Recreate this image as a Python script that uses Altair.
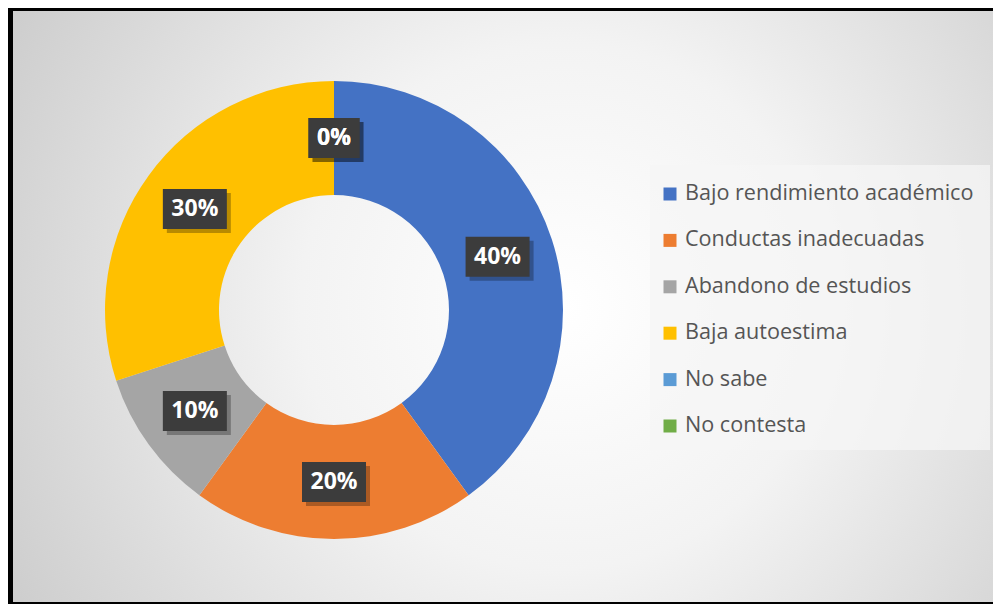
import altair as alt
import pandas as pd

categories = ["Bajo rendimiento académico", "Conductas inadecuadas", "Abandono de estudios",
              "Baja autoestima", "No sabe", "No contesta"]
values = [40, 20, 10, 30, 0, 0]
colors = ["#4472C4", "#ED7D31", "#A5A5A5", "#FFC000", "#5B9BD5", "#70AD47"]
labels = [f"{v}%" for v in values]

df = pd.DataFrame({
    "idx": list(range(len(categories))),
    "cat": categories,
    "value": values,
    "label": labels,
})

W, H = 985, 596
CX, CY = 326, 302
R_OUT, R_IN, R_LAB = 229, 115, 172

base = alt.Chart(df)

bg = alt.Chart(pd.DataFrame({"a": [0]})).mark_rect(
    fill=alt.RadialGradient(
        gradient="radial",
        stops=[alt.GradientStop(offset=0, color="#ffffff"),
               alt.GradientStop(offset=0.35, color="#f3f3f3"),
               alt.GradientStop(offset=1, color="#c0c0c0")],
        x1=0.55, y1=0.5, r1=0, x2=0.55, y2=0.5, r2=0.75),
    stroke=None,
).encode(x=alt.value(5), x2=alt.value(W + 20), y=alt.value(3), y2=alt.value(594))

arcs = base.mark_arc(radius=R_OUT, radius2=R_IN, stroke=None).encode(
    theta=alt.Theta("value:Q", stack=True),
    order=alt.Order("idx:Q"),
    color=alt.Color("cat:N", scale=alt.Scale(domain=categories, range=colors), legend=None),
    x=alt.value(CX), y=alt.value(CY),
)

lab = base.transform_joinaggregate(total="sum(value)").transform_window(
    cum="sum(value)", sort=[alt.SortField("idx")], frame=[None, 0]
).transform_calculate(
    mid="(datum.cum - datum.value/2)/datum.total*2*PI",
).transform_calculate(
    px=f"{CX} + {R_LAB}*sin(datum.mid)",
    py=f"{CY} - {R_LAB}*cos(datum.mid)",
    bw="25 + 13*length(datum.label)",
).transform_calculate(
    x0="datum.px - datum.bw/2", x1="datum.px + datum.bw/2",
    y0="datum.py - 20", y1="datum.py + 20",
    sx0="datum.px - datum.bw/2 + 4", sx1="datum.px + datum.bw/2 + 4",
    sy0="datum.py - 16", sy1="datum.py + 24",
)

shadow = lab.mark_rect(color="black", opacity=0.28).encode(
    x=alt.X("sx0:Q", scale=None), x2="sx1:Q",
    y=alt.Y("sy0:Q", scale=None), y2="sy1:Q",
)
boxes = lab.mark_rect(color="#3c3c3c").encode(
    x=alt.X("x0:Q", scale=None), x2="x1:Q",
    y=alt.Y("y0:Q", scale=None), y2="y1:Q",
)
texts = lab.mark_text(font="Open Sans", fontSize=23, fontWeight="bold", color="white",
                      align="center", baseline="middle").encode(
    x=alt.X("px:Q", scale=None), y=alt.Y("py:Q", scale=None), text="label:N",
)

leg_box = alt.Chart(pd.DataFrame({"a": [0]})).mark_rect(fill="#f6f6f6", opacity=0.75).encode(
    x=alt.value(642), x2=alt.value(982), y=alt.value(157), y2=alt.value(442)
)
leg = base.transform_calculate(ly="186 + datum.idx*46.4", sx="662", tx="677")
leg_sym = leg.mark_square(size=169, opacity=1).encode(
    x=alt.X("sx:Q", scale=None), y=alt.Y("ly:Q", scale=None),
    color=alt.Color("cat:N", scale=alt.Scale(domain=categories, range=colors), legend=None),
)
leg_txt = leg.mark_text(font="Open Sans", fontSize=21.6, color="#555555",
                        align="left", baseline="middle").encode(
    x=alt.X("tx:Q", scale=None), y=alt.Y("ly:Q", scale=None), text="cat:N",
)

chart = alt.layer(bg, arcs, shadow, boxes, texts, leg_box, leg_sym, leg_txt).properties(
    width=W, height=H, padding=0, background="black",
    autosize=alt.AutoSizeParams(type="none"),
).configure_view(stroke=None)

chart.save("out.html", embed_options={"renderer": "svg", "actions": False})
